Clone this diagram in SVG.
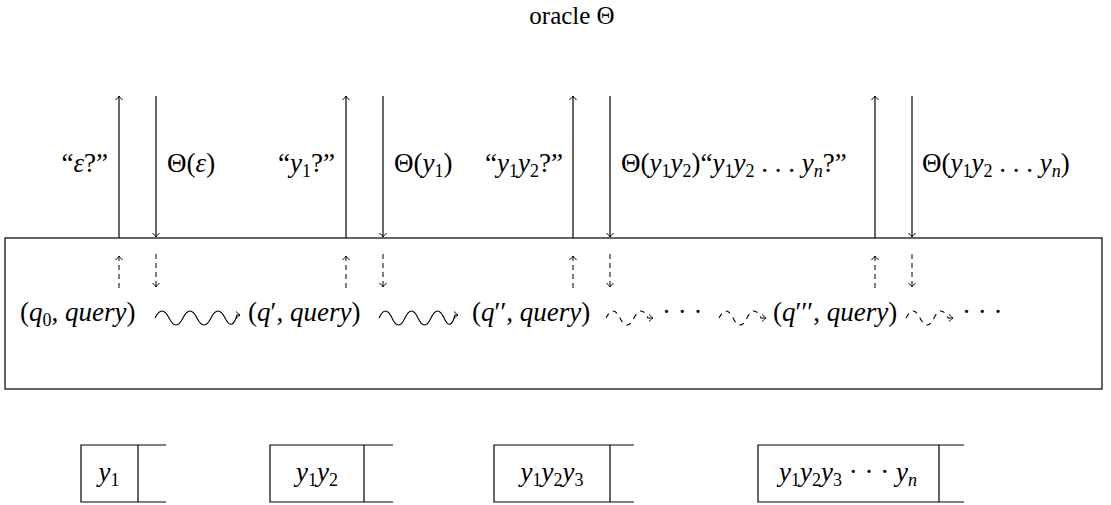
<svg xmlns="http://www.w3.org/2000/svg" width="1111" height="505" viewBox="0 0 1111 505">
<style>
text{font-family:"Liberation Serif",serif;font-size:27px;fill:#000}
.m{font-style:italic}
.u{font-style:normal}
.s{font-size:18px;font-style:normal}
.sm{font-size:18px;font-style:italic}
.ln{stroke:#000;stroke-width:1.2;fill:none}
.ds{stroke:#000;stroke-width:1;fill:none;stroke-dasharray:5,4}
.wv{stroke:#000;stroke-width:1.1;fill:none}
.wd{stroke:#000;stroke-width:1.1;fill:none;stroke-dasharray:5,5}
</style>
<defs>
<marker id="ah" viewBox="-6 -5 8 10" markerWidth="8" markerHeight="10" refX="0" refY="0" orient="auto" markerUnits="userSpaceOnUse">
<path d="M-4,-3.5 Q-1,-0.5 0,0 Q-1,0.5 -4,3.5" fill="none" stroke="#000" stroke-width="1"/>
</marker>
</defs>
<rect width="1111" height="505" fill="#fff"/>
<text id="oracle" x="572" y="24" text-anchor="middle" style="font-size:25px">oracle Θ</text>
<g id="machine">
<rect x="5" y="238" width="1097" height="151" class="ln"/>
</g>
<g id="states">
<text x="20" y="321" class="u">(<tspan class="m">q</tspan><tspan class="s" baseline-shift="-5">0</tspan>, <tspan class="m">query</tspan>)</text>
<text x="248" y="321" class="u">(<tspan class="m">q</tspan>′, <tspan class="m">query</tspan>)</text>
<text x="472" y="321" class="u">(<tspan class="m">q</tspan>′′, <tspan class="m">query</tspan>)</text>
<text x="662" y="321" class="u">· · ·</text>
<text x="773" y="321" class="u">(<tspan class="m">q</tspan>′′′, <tspan class="m">query</tspan>)</text>
<text x="962" y="321" class="u">· · ·</text>
</g>
<g id="labels">
<text x="108" y="172" text-anchor="end" class="u">“<tspan class="m">ε</tspan>?”</text>
<text x="167" y="172" class="u">Θ(<tspan class="m">ε</tspan>)</text>
<text x="335" y="172" text-anchor="end" class="u">“<tspan class="m">y</tspan><tspan class="s" baseline-shift="-5">1</tspan>?”</text>
<text x="394" y="172" class="u">Θ(<tspan class="m">y</tspan><tspan class="s" baseline-shift="-5">1</tspan>)</text>
<text x="563" y="172" text-anchor="end" class="u">“<tspan class="m">y</tspan><tspan class="s" baseline-shift="-5">1</tspan><tspan class="m">y</tspan><tspan class="s" baseline-shift="-5">2</tspan>?”</text>
<text x="621" y="172" class="u">Θ(<tspan class="m">y</tspan><tspan class="s" baseline-shift="-5">1</tspan><tspan class="m">y</tspan><tspan class="s" baseline-shift="-5">2</tspan>)“<tspan class="m">y</tspan><tspan class="s" baseline-shift="-5">1</tspan><tspan class="m">y</tspan><tspan class="s" baseline-shift="-5">2</tspan> . . . <tspan class="m">y</tspan><tspan class="sm" baseline-shift="-5">n</tspan>?”</text>
<text x="922" y="172" class="u">Θ(<tspan class="m">y</tspan><tspan class="s" baseline-shift="-5">1</tspan><tspan class="m">y</tspan><tspan class="s" baseline-shift="-5">2</tspan> . . . <tspan class="m">y</tspan><tspan class="sm" baseline-shift="-5">n</tspan>)</text>
</g>
<g id="connectors">
<line x1="119" y1="238" x2="119" y2="96" class="ln" marker-end="url(#ah)"/>
<line x1="156" y1="96" x2="156" y2="237" class="ln" marker-end="url(#ah)"/>
<line x1="346" y1="238" x2="346" y2="96" class="ln" marker-end="url(#ah)"/>
<line x1="383" y1="96" x2="383" y2="237" class="ln" marker-end="url(#ah)"/>
<line x1="573" y1="238" x2="573" y2="96" class="ln" marker-end="url(#ah)"/>
<line x1="610" y1="96" x2="610" y2="237" class="ln" marker-end="url(#ah)"/>
<line x1="875" y1="238" x2="875" y2="96" class="ln" marker-end="url(#ah)"/>
<line x1="912" y1="96" x2="912" y2="237" class="ln" marker-end="url(#ah)"/>
<line x1="119" y1="288" x2="119" y2="256" class="ds" marker-end="url(#ah)"/>
<line x1="156" y1="254" x2="156" y2="287" class="ds" marker-end="url(#ah)"/>
<line x1="346" y1="288" x2="346" y2="256" class="ds" marker-end="url(#ah)"/>
<line x1="383" y1="254" x2="383" y2="287" class="ds" marker-end="url(#ah)"/>
<line x1="573" y1="288" x2="573" y2="256" class="ds" marker-end="url(#ah)"/>
<line x1="610" y1="254" x2="610" y2="287" class="ds" marker-end="url(#ah)"/>
<line x1="875" y1="288" x2="875" y2="256" class="ds" marker-end="url(#ah)"/>
<line x1="912" y1="254" x2="912" y2="287" class="ds" marker-end="url(#ah)"/>
<path class="wv" marker-end="url(#ah)" d="M155,318 q7,-14 14,0 t14,0 t14,0 t14,0 t14,0 t12,-3 l3,0"/>
<path class="wv" marker-end="url(#ah)" d="M379,318 q6.5,-14 13,0 t13,0 t13,0 t13,0 t13,0 t11,-3 l3,0"/>
<path class="wd" marker-end="url(#ah)" d="M606,318 q7,-14 14,0 t14,0 t14,0 l5,0"/>
<path class="wd" marker-end="url(#ah)" d="M719,318 q7,-14 14,0 t14,0 t14,0 l5,0"/>
<path class="wd" marker-end="url(#ah)" d="M906,318 q7,-14 14,0 t14,0 t14,0 l5,0"/>
</g>
<g id="tape1">
<path class="ln" d="M166,445 H81 V502 H166 M138,445 V502"/>
<text x="109" y="481" text-anchor="middle" class="m">y<tspan class="s" baseline-shift="-5">1</tspan></text>
</g>
<g id="tape2">
<path class="ln" d="M393,445 H270 V502 H393 M364,445 V502"/>
<text x="317" y="481" text-anchor="middle" class="m">y<tspan class="s" baseline-shift="-5">1</tspan>y<tspan class="s" baseline-shift="-5">2</tspan></text>
</g>
<g id="tape3">
<path class="ln" d="M634,445 H494 V502 H634 M610,445 V502"/>
<text x="552" y="481" text-anchor="middle" class="m">y<tspan class="s" baseline-shift="-5">1</tspan>y<tspan class="s" baseline-shift="-5">2</tspan>y<tspan class="s" baseline-shift="-5">3</tspan></text>
</g>
<g id="tape4">
<path class="ln" d="M964,445 H758 V502 H964 M939,445 V502"/>
<text x="848" y="481" text-anchor="middle" class="m">y<tspan class="s" baseline-shift="-5">1</tspan>y<tspan class="s" baseline-shift="-5">2</tspan>y<tspan class="s" baseline-shift="-5">3</tspan><tspan class="u"> · · · </tspan>y<tspan class="sm" baseline-shift="-5">n</tspan></text>
</g>
</svg>
